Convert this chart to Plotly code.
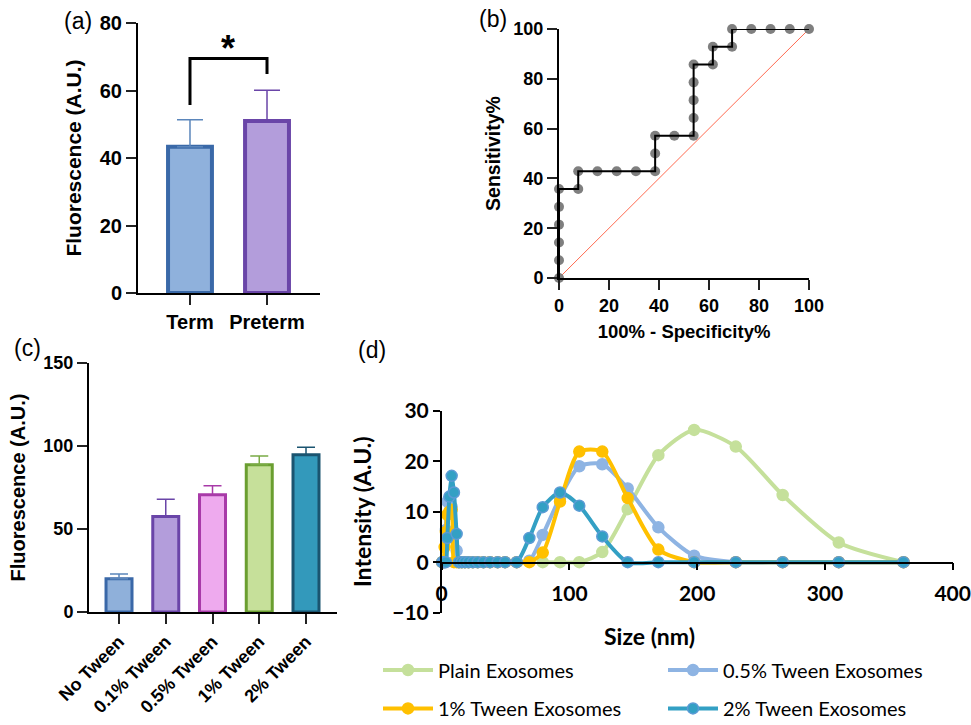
import plotly.graph_objects as go

W, H = 971, 725
def px(x): return x / W
def py(y): return 1 - y / H

AR = "Liberation Sans, Arial, sans-serif"
LT = "Lato, Carlito, Calibri, sans-serif"

# ---------------- (a) data ----------------
a_groups = ["Term", "Preterm"]
a_means = [43.3, 51.0]
a_sem = [8.0, 9.1]
a_fill = ["#8fb1dc", "#b39ddb"]
a_edge = ["#3a69a8", "#6a45a8"]
a_errc = ["#5b86bb", "#6a45a8"]

# ---------------- (b) data ----------------
roc_fpr = [0, 0, 0, 0, 0, 0, 7.69, 7.69, 15.38, 23.08, 30.77, 38.46, 38.46, 38.46,
           46.15, 53.85, 53.85, 53.85, 53.85, 53.85, 61.54, 61.54, 69.23, 69.23,
           76.92, 84.62, 92.31, 100]
roc_tpr = [0, 7.14, 14.29, 21.43, 28.57, 35.71, 35.71, 42.86, 42.86, 42.86, 42.86,
           42.86, 50.0, 57.14, 57.14, 57.14, 64.29, 71.43, 78.57, 85.71, 85.71,
           92.86, 92.86, 100, 100, 100, 100, 100]
ref_line = [0, 100]

# ---------------- (c) data ----------------
c_groups = ["No Tween", "0.1% Tween", "0.5% Tween", "1% Tween", "2% Tween"]
c_means = [20.0, 57.5, 70.6, 88.7, 94.7]
c_sem = [2.9, 10.4, 5.5, 5.3, 4.5]
c_fill = ["#8fb0da", "#b39ddb", "#eeaaee", "#c6e09a", "#3399bb"]
c_edge = ["#3a68a8", "#6a45a8", "#a83aa8", "#6a9e30", "#1a5470"]
c_errc = ["#5b86bb", "#6a45a8", "#a83aa8", "#7aab45", "#1a5470"]

# ---------------- (d) data ----------------
sizes = [0.4, 1.2, 2.3, 3.3, 4.4, 6.0, 7.8, 9.6, 11.7, 13.5, 15.7, 18.2, 21.0, 24.4,
         28.2, 32.7, 37.8, 43.8, 49.6, 58.7, 68.6, 79.1, 92.6, 107.7, 125.7, 145.6,
         169.6, 197.6, 230.2, 266.9, 310.8, 361.5]
plain_x = [79.1, 92.6, 107.7, 125.7, 145.6, 169.6, 197.6, 230.2, 266.9, 310.8, 361.5]
plain_y = [0, 0, 0, 2.0, 10.5, 21.2, 26.2, 22.9, 13.3, 3.9, 0]
tw05_y = [0, 0, 0, 6.4, 12.0, 12.5, 11.0, 6.0, 2.3, 0, 0, 0, 0, 0,
          0, 0, 0, 0, 0, 0, 0.3, 5.4, 12.8, 19.0, 19.4, 14.6,
          6.9, 1.3, 0, 0, 0, 0]
tw1_y = [0, 0, 3.0, 6.0, 9.4, 10.0, 10.4, 0, 0, 0, 0, 0, 0, 0,
         0, 0, 0, 0, 0, 0, 0, 1.9, 12.0, 21.9, 21.9, 12.7,
         2.5, 0, 0, 0, 0, 0]
tw2_y = [0, 0, 0, 0, 4.8, 13.0, 17.1, 13.8, 5.6, 0, 0, 0, 0, 0,
         0, 0, 0, 0, 0, 0, 4.8, 10.9, 13.8, 11.2, 5.1, 0,
         0, 0, 0, 0, 0, 0]
d_names = ["Plain Exosomes", "0.5% Tween Exosomes", "1% Tween Exosomes", "2% Tween Exosomes"]
d_colors = ["#c5e09b", "#8eb4e3", "#ffc000", "#33a0c4"]
d_mline = ["#c5e09b", "#8eb4e3", "#ffc000", "#5b9bd5"]

fig = go.Figure()

# (a) bars
a_idx = list(range(len(a_groups)))
for i in a_idx:
    fig.add_trace(go.Bar(
        x=[a_idx[i]], y=[a_means[i]], width=0.57,
        marker=dict(color=a_fill[i], line=dict(color=a_edge[i], width=4)),
        error_y=dict(type="data", array=[a_sem[i]], arrayminus=[0], symmetric=False,
                     color=a_errc[i], thickness=1.5, width=13),
        xaxis="x", yaxis="y", showlegend=False))

# (b) ROC
fig.add_trace(go.Scatter(x=ref_line, y=ref_line, mode="lines",
                         line=dict(color="#ff6a50", width=1),
                         xaxis="x2", yaxis="y2", showlegend=False, cliponaxis=False))
fig.add_trace(go.Scatter(x=roc_fpr, y=roc_tpr, mode="markers",
                         marker=dict(color="#7f7f7f", size=10),
                         xaxis="x2", yaxis="y2", showlegend=False, cliponaxis=False))
fig.add_trace(go.Scatter(x=roc_fpr, y=roc_tpr, mode="lines",
                         line=dict(color="black", width=2),
                         xaxis="x2", yaxis="y2", showlegend=False, cliponaxis=False))

# (c) bars
c_idx = list(range(len(c_groups)))
for i in c_idx:
    fig.add_trace(go.Bar(
        x=[c_idx[i]], y=[c_means[i]], width=0.556,
        marker=dict(color=c_fill[i], line=dict(color=c_edge[i], width=3)),
        error_y=dict(type="data", array=[c_sem[i]], arrayminus=[0], symmetric=False,
                     color=c_errc[i], thickness=1.5, width=9),
        xaxis="x3", yaxis="y3", showlegend=False))

# (d) DLS curves
d_x = [plain_x, sizes, sizes, sizes]
d_y = [plain_y, tw05_y, tw1_y, tw2_y]
legs = ["legend", "legend2", "legend3", "legend4"]
for k in range(4):
    fig.add_trace(go.Scatter(
        x=d_x[k], y=d_y[k], mode="lines+markers", name=d_names[k],
        line=dict(color=d_colors[k], width=4, shape="spline", smoothing=0.7),
        marker=dict(color=d_colors[k], size=11, line=dict(color=d_mline[k], width=1.5)),
        xaxis="x4", yaxis="y4", legend=legs[k], cliponaxis=False))

tickfont_ar = dict(family=AR, size=18, color="black", weight=700)
tickfont_a = dict(family=AR, size=20, color="black", weight=700)
titlefont_a = dict(family=AR, size=21, color="black", weight=700)
tickfont_lt = dict(family=LT, size=21, color="black", weight=700)
titlefont_lt = dict(family=LT, size=23, color="black", weight=700)

common_ax = dict(showgrid=False, zeroline=False, showline=True, linecolor="black",
                 linewidth=2, ticks="outside", tickcolor="#222", tickwidth=2, ticklen=10,
                 automargin=False)

legend_common = dict(xanchor="left", bgcolor="rgba(0,0,0,0)",
                     font=dict(family=LT, size=20, color="black"), itemwidth=50)

fig.update_layout(
    width=W, height=H, margin=dict(l=0, r=0, t=0, b=0, autoexpand=False),
    plot_bgcolor="white", paper_bgcolor="white", barmode="overlay",
    # (a)
    xaxis=dict(domain=[px(138), px(320)], anchor="y", range=[-0.675, 1.688],
               tickvals=a_idx, ticktext=a_groups, tickfont=tickfont_a, **common_ax),
    yaxis=dict(domain=[py(293), py(23)], anchor="x", range=[0, 80], dtick=20,
               tickfont=tickfont_a,
               title=dict(text="Fluorescence (A.U.)", font=titlefont_a, standoff=12),
               **common_ax),
    # (b)
    xaxis2=dict(domain=[px(559), px(809)], anchor="y2", range=[0, 100], dtick=20,
                tickfont=tickfont_ar,
                title=dict(text="100% - Specificity%", font=dict(family=AR, size=18.5, color="black", weight=700), standoff=10),
                **common_ax),
    yaxis2=dict(domain=[py(278), py(29)], anchor="x2", range=[0, 100], dtick=20,
                tickfont=tickfont_ar,
                title=dict(text="Sensitivity%", font=dict(family=AR, size=19.5, color="black", weight=700), standoff=8),
                **common_ax),
    # (c)
    xaxis3=dict(domain=[px(89), px(337)], anchor="y3", range=[-0.642, 4.663],
                tickvals=c_idx, ticktext=c_groups, tickangle=-45, tickfont=tickfont_ar,
                **common_ax),
    yaxis3=dict(domain=[py(612), py(363)], anchor="x3", range=[0, 150], dtick=50,
                tickfont=tickfont_ar,
                title=dict(text="Fluorescence (A.U.)", font=dict(family=AR, size=20, color="black", weight=700), standoff=12),
                **common_ax),
    # (d)
    xaxis4=dict(domain=[px(441.7), px(952.7)], anchor="free", position=py(562.5),
                range=[0, 400], dtick=100, showgrid=False, zeroline=False, showline=True,
                linecolor="black", linewidth=1.5, ticks="outside", tickcolor="black",
                tickwidth=1.5, ticklen=7, tickfont=tickfont_lt, ticklabelstandoff=6,
                automargin=False),
    yaxis4=dict(domain=[py(612.7), py(410.7)], anchor="x4", range=[-10, 30], dtick=10,
                showgrid=False, zeroline=False, showline=True, linecolor="black",
                linewidth=1.5, ticks="outside", tickcolor="black", tickwidth=1.5,
                ticklen=7, tickfont=tickfont_lt, automargin=False,
                title=dict(text="Intensity (A.U.)", font=titlefont_lt, standoff=14)),
    legend=dict(x=px(378), y=py(670), yanchor="middle", **legend_common),
    legend2=dict(x=px(663), y=py(670), yanchor="middle", **legend_common),
    legend3=dict(x=px(378), y=-0.004, yanchor="bottom", **legend_common),
    legend4=dict(x=px(663), y=-0.004, yanchor="bottom", **legend_common),
)

# bracket and asterisk in (a)
fig.add_shape(type="path", xref="x", yref="y",
              path="M 0,55.7 L 0,69.5 L 1,69.5 L 1,64.9",
              line=dict(color="black", width=3))
fig.add_annotation(x=0.49, y=72.4, xref="x", yref="y", text="*", showarrow=False,
                   font=dict(family=AR, size=36, color="black", weight=700),
                   yanchor="middle")

# x title for (d)
fig.add_annotation(x=px(697), y=py(636), xref="paper", yref="paper", text="Size (nm)",
                   showarrow=False, font=titlefont_lt, yanchor="middle")

# panel labels
for lab, lx, ly in [("(a)", 62, 21), ("(b)", 477, 19), ("(c)", 12, 348), ("(d)", 356, 350)]:
    fig.add_annotation(x=px(lx), y=py(ly), xref="paper", yref="paper", text=lab,
                       showarrow=False, xanchor="left", yanchor="middle",
                       font=dict(family=AR, size=23, color="black"))

fig.write_html("out.html", config={"displayModeBar": False},
               post_script="document.body.style.margin='0';document.body.style.padding='0';")
